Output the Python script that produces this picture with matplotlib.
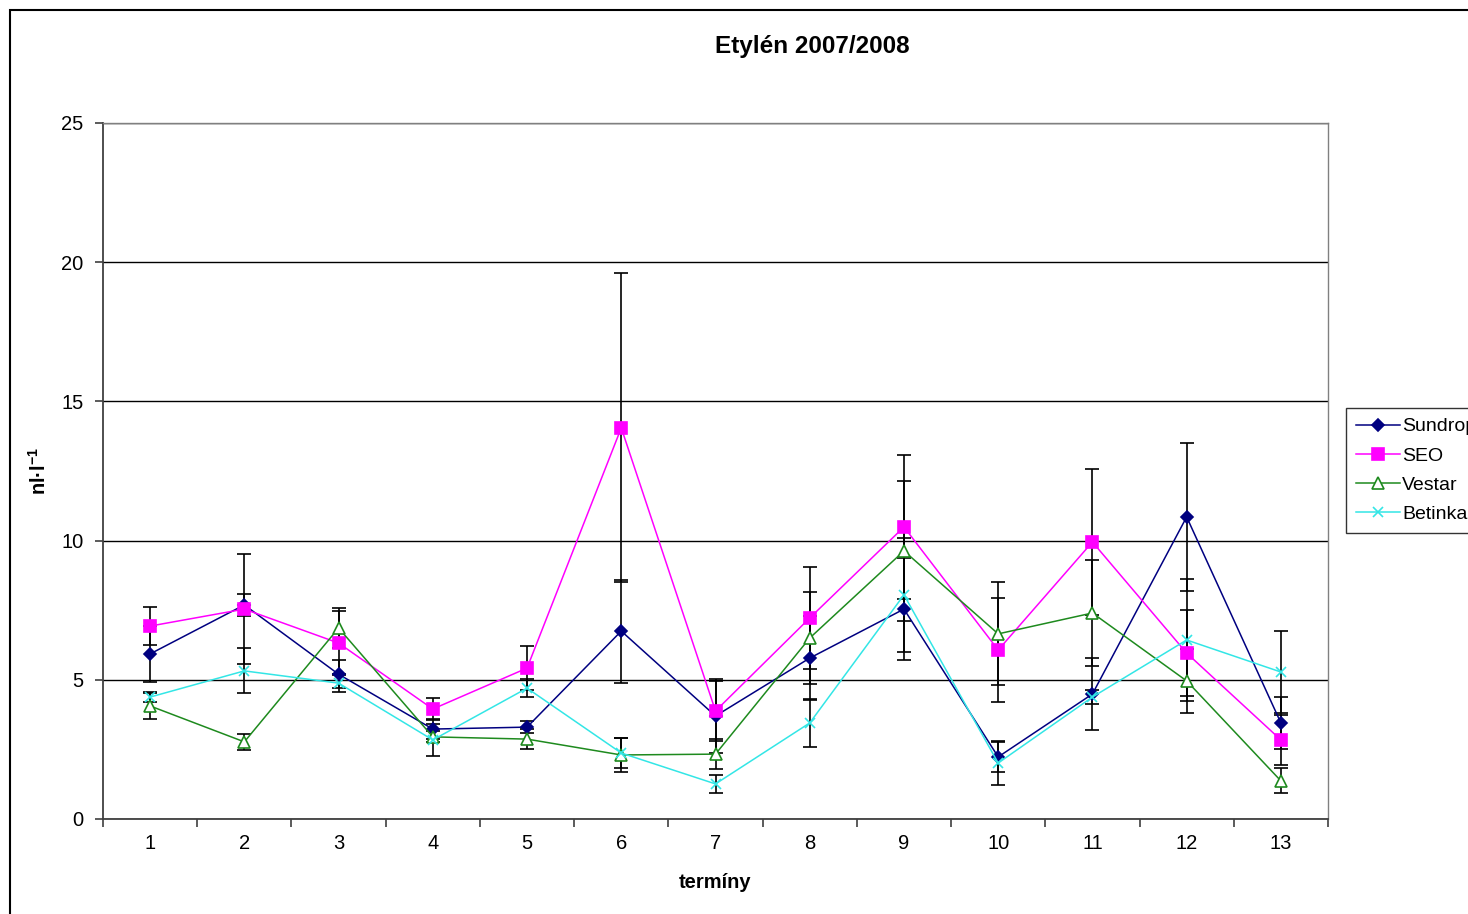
import numpy as np
import matplotlib
matplotlib.use("Agg")
import matplotlib.pyplot as plt
from matplotlib.patches import Rectangle

plt.rcParams["font.family"] = ["Liberation Sans", "DejaVu Sans"]
plt.rcParams["mathtext.default"] = "regular"

# --------------------------------------
# Data
# --------------------------------------
terms = list(range(1, 14))

sundrop = [5.93, 7.69, 5.20, 3.23, 3.30, 6.75, 3.70, 5.78, 7.54, 2.23, 4.49, 10.85, 3.45]
seo = [6.93, 7.54, 6.32, 3.95, 5.42, 14.05, 3.88, 7.22, 10.49, 6.07, 9.95, 5.96, 2.84]
vestar = [4.06, 2.77, 6.86, 2.95, 2.87, 2.30, 2.33, 6.50, 9.63, 6.65, 7.40, 4.96, 1.37]
betinka = [4.38, 5.32, 4.88, 2.84, 4.70, 2.37, 1.26, 3.45, 8.05, 2.01, 4.38, 6.43, 5.28]

sundrop_err = [1.00, 0.39, 0.51, 0.36, 0.22, 1.85, 1.33, 1.50, 1.82, 0.55, 1.30, 2.65, 0.93]
seo_err = [0.69, 1.98, 1.15, 0.40, 0.79, 5.55, 1.08, 1.83, 2.60, 1.87, 2.62, 1.55, 0.90]
vestar_err = [0.47, 0.29, 0.73, 0.20, 0.36, 0.60, 0.55, 1.65, 2.50, 1.85, 1.90, 1.15, 0.45]
betinka_err = [0.18, 0.81, 0.32, 0.58, 0.32, 0.55, 0.33, 0.86, 2.05, 0.80, 0.25, 2.20, 1.47]

series = [
    ("Sundrop", sundrop, sundrop_err, "#000080", "D", "#000080", 6),
    ("SEO", seo, seo_err, "#FF00FF", "s", "#FF00FF", 8),
    ("Vestar", vestar, vestar_err, "#1E8A1E", "^", "white", 8),
    ("Betinka", betinka, betinka_err, "#33E6E6", "x", "#33E6E6", 7),
]

# --------------------------------------
# Plot
# --------------------------------------
W, H = 1468, 914
fig = plt.figure(figsize=(W / 100, H / 100), dpi=100)
ax = fig.add_axes([103 / W, 1 - 819 / H, (1328 - 103) / W, (819 - 123) / H])

for name, vals, err, col, mk, face, ms in series:
    ax.errorbar(terms, vals, yerr=err, fmt="none", ecolor="black",
                elinewidth=1.2, capsize=5, capthick=1.2, zorder=2)
    ax.plot(terms, vals, color=col, lw=1.1, marker=mk, markersize=ms,
            markerfacecolor=face, markeredgecolor=col, markeredgewidth=1.2,
            label=name, zorder=3)

ax.set_xlim(0.5, 13.5)
ax.set_ylim(0, 25)
ax.set_yticks([0, 5, 10, 15, 20, 25])
ax.set_xticks(terms)
ax.set_xticks(np.arange(0.5, 14, 1), minor=True)
ax.tick_params(axis="x", which="major", length=0, pad=11, labelsize=14.5)
ax.tick_params(axis="x", which="minor", length=6, width=1.2, color="#404040", direction="out")
ax.tick_params(axis="y", length=6, width=1.2, color="#404040", labelsize=14.5, pad=8)

ax.yaxis.grid(True, color="black", lw=1.0)
ax.set_axisbelow(True)
for side in ("top", "right"):
    ax.spines[side].set_color("#808080")
    ax.spines[side].set_linewidth(1.0)
for side in ("left", "bottom"):
    ax.spines[side].set_color("#404040")
    ax.spines[side].set_linewidth(1.3)

ax.set_xlabel("termíny", fontsize=14.5, fontweight="bold", labelpad=14)
ax.set_ylabel("nl·l$^{-1}$", fontsize=14.5, fontweight="bold", labelpad=8)

fig.text(812 / W, 1 - 47 / H, "Etylén 2007/2008", ha="center", va="center",
         fontsize=17.5, fontweight="bold")

leg = fig.legend(loc="upper left", bbox_to_anchor=(1346 / W, 1 - 408 / H),
                 fontsize=14, frameon=True, fancybox=False, borderpad=0.5,
                 handlelength=2.3, handletextpad=0.1, labelspacing=0.6,
                 borderaxespad=0)
leg.get_frame().set_edgecolor("black")
leg.get_frame().set_linewidth(1.0)

fig.patches.append(Rectangle((10 / W, -0.02), 1.2, 1 - 10 / H + 0.02,
                             transform=fig.transFigure, fill=False,
                             edgecolor="black", lw=1.5))

fig.savefig("out.png", dpi=100)
